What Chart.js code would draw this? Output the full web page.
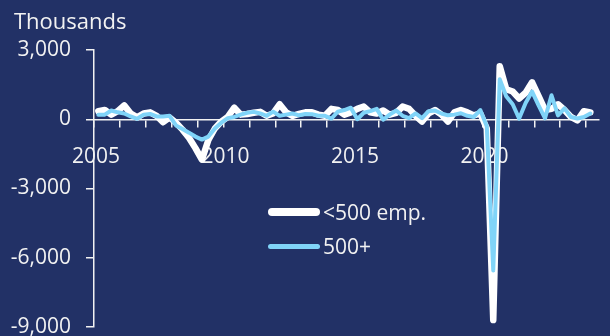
<!DOCTYPE html>
<html lang="en">
<head>
  <meta charset="UTF-8">
  <title>Net employment change by firm size</title>
  <style>
    html, body {
      margin: 0;
      padding: 0;
      background: #223166;
      overflow: hidden;
    }
    .wrap {
      position: relative;
      width: 610px;
      height: 336px;
    }
    .units {
      position: absolute;
      left: 14px;
      top: 5px;
      color: #f2f2f2;
      font: 22px "Open Sans", sans-serif;
    }
    .legend {
      position: absolute;
      left: 268px;
      top: 195px;
      color: #f2f2f2;
      font: 21px "Open Sans", sans-serif;
    }
    .legend .row {
      display: flex;
      align-items: center;
      height: 34px;
    }
    .legend .swatch {
      display: inline-block;
      width: 52px;
      margin-right: 3px;
      border-radius: 4px;
    }
  </style>
  <script src="https://cdn.jsdelivr.net/npm/chart.js"></script>
</head>
<body>
  <div class="wrap">
    <canvas id="chart"></canvas>
    <div class="units">Thousands</div>
    <div class="legend">
      <div class="row"><span class="swatch" style="height:8px;background:#ffffff"></span>&lt;500 emp.</div>
      <div class="row"><span class="swatch" style="height:5px;background:#80d4f8"></span>500+</div>
    </div>
  </div>

  <script>
    // quarterly net employment change, thousands (2005Q1 .. 2024Q1)
    const startYear = 2005;
    const quarters = [];
    for (let y = 2005; y <= 2024; y++) {
      for (let q = 1; q <= 4; q++) {
        if (y === 2024 && q > 1) break;
        quarters.push(y + 'Q' + q);
      }
    }

    const small = [
      350, 400, 200, 350, 600, 250, 80, 250, 300, 150, -130, 80,
      -150, -450, -800, -1250, -1750, -900, -400, -100, 100, 500, 200, 230,
      280, 320, 150, 250, 650, 300, 150, 230, 300, 300, 200, 150,
      450, 400, 200, 300, 450, 550, 300, 250, 380, 200, 280, 550,
      450, 150, -100, 250, 400, 200, -100, 300, 400, 300, 170, 250,
      -400, -8700, 2300, 1300, 1200, 900, 1150, 1600, 1000, 400, 450, 650,
      400, 100, -50, 350, 300
    ];
    const large = [
      200, 200, 380, 300, 250, 120, 20, 200, 230, 120, 120, 150,
      -270, -420, -580, -750, -880, -750, -400, -150, 50, 100, 200, 280,
      320, 250, 150, 330, 150, 200, 250, 170, 230, 220, 150, 150,
      30, 330, 400, 500, 0, 280, 350, 450, -20, 200, 380, 150,
      50, 250, 50, 350, 380, 250, 170, 200, 260, 150, 100, 400,
      -300, -6550, 1730, 1000, 650, 30, 700, 1200, 600, 40, 1040, 170,
      470, 100, 30, 100, 250
    ];

    const yTicks = [-9000, -6000, -3000, 0, 3000];
    const xLabelYears = [2005, 2010, 2015, 2020];

    const ink = '#f2f2f2';
    const font = { family: 'Open Sans', size: 21 };

    // plot each quarter at its last month
    function toX(label) {
      const y = parseInt(label.slice(0, 4), 10);
      const q = parseInt(label.slice(5), 10);
      return y + (q * 3 - 1) / 12;
    }
    const pts = arr => arr.map((v, i) => ({ x: toX(quarters[i]), y: v }));

    new Chart(document.getElementById('chart'), {
      type: 'line',
      data: {
        datasets: [
          {
            label: '<500 emp.',
            data: pts(small),
            borderColor: '#ffffff',
            borderWidth: 6.5,
            order: 2
          },
          {
            label: '500+',
            data: pts(large),
            borderColor: '#80d4f8',
            borderWidth: 4,
            order: 1
          }
        ]
      },
      options: {
        responsive: true,
        maintainAspectRatio: false,
        animation: false,
        layout: { padding: { top: 50, bottom: 9, left: 0, right: 11 } },
        elements: {
          point: { radius: 0 },
          line: { tension: 0, borderJoinStyle: 'round', borderCapStyle: 'round' }
        },
        plugins: {
          legend: { display: false },
          tooltip: { enabled: false }
        },
        scales: {
          x: {
            type: 'linear',
            min: startYear,
            max: 2024.5,
            position: { y: 0 },
            afterFit: s => { s.height = 0; s.paddingLeft = 0; s.paddingRight = 0; },
            ticks: {
              stepSize: 1,
              includeBounds: false,
              autoSkip: false,
              maxRotation: 0,
              color: ink,
              font: font,
              padding: 18,
              labelOffset: 2,
              callback: v => xLabelYears.includes(v) ? String(v) : ''
            },
            grid: { drawOnChartArea: false, drawTicks: true, tickLength: 7, color: ink, lineWidth: 1.5 },
            border: { color: ink, width: 1.5 }
          },
          y: {
            min: yTicks[0],
            max: yTicks[yTicks.length - 1],
            afterFit: s => { s.width = 94; s.paddingTop = 0; s.paddingBottom = 0; },
            afterBuildTicks: s => { s.ticks = yTicks.map(v => ({ value: v })); },
            ticks: {
              color: ink,
              font: font,
              padding: 15,
              callback: v => v.toLocaleString('en-US')
            },
            grid: { drawOnChartArea: false, drawTicks: true, tickLength: 8, color: ink, lineWidth: 1.5 },
            border: { color: ink, width: 1.5 }
          }
        }
      }
    });
  </script>
</body>
</html>
